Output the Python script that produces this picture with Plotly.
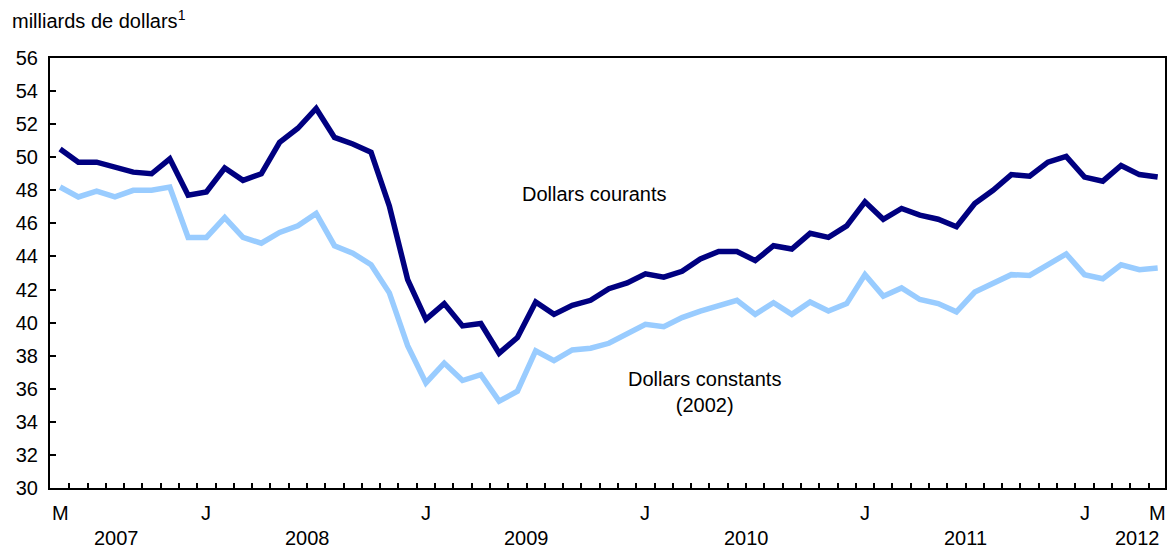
import plotly.graph_objects as go

# Monthly data, May 2007 to May 2012
months = [f"{y}-{m:02d}" for y in range(2007, 2013) for m in range(1, 13)]
months = months[months.index("2007-05"):months.index("2012-05") + 1]

courants = [
    50.5, 49.7, 49.7, 49.4, 49.1, 49.0, 49.9, 47.7, 47.9, 49.35,
    48.6, 49.0, 50.9, 51.75, 52.95, 51.2, 50.8, 50.3, 47.05, 42.6,
    40.2, 41.15, 39.8, 39.95, 38.15, 39.1, 41.25, 40.5, 41.05, 41.35,
    42.05, 42.4, 42.95, 42.75, 43.1, 43.85, 44.3, 44.3, 43.75, 44.65,
    44.45, 45.4, 45.15, 45.85, 47.3, 46.25, 46.9, 46.5, 46.25, 45.8,
    47.2, 48.0, 48.95, 48.85, 49.7, 50.05, 48.8, 48.55, 49.5, 48.95,
    48.8,
]
constants = [
    48.2, 47.6, 47.95, 47.6, 48.0, 48.0, 48.2, 45.15, 45.15, 46.35,
    45.15, 44.8, 45.45, 45.85, 46.6, 44.65, 44.2, 43.5, 41.8, 38.6,
    36.35, 37.55, 36.5, 36.85, 35.25, 35.85, 38.3, 37.7, 38.35, 38.45,
    38.75, 39.3, 39.9, 39.75, 40.3, 40.7, 41.05, 41.35, 40.5, 41.2,
    40.5, 41.25, 40.7, 41.15, 42.9, 41.6, 42.1, 41.4, 41.15, 40.65,
    41.85, 42.4, 42.9, 42.85, 43.5, 44.15, 42.9, 42.65, 43.5, 43.2,
    43.3,
]

month_labels = {"2007-05": "M", "2008-01": "J", "2009-01": "J", "2010-01": "J",
                "2011-01": "J", "2012-01": "J", "2012-05": "M"}
year_labels = ["2007", "2008", "2009", "2010", "2011", "2012"]
year_pos = [3.1, 13.5, 25.5, 37.5, 49.5, 58.9]

x = list(range(len(months)))
font = "Liberation Sans, Arial, sans-serif"
FS = 20
W, H = 1170, 552

fig = go.Figure()
fig.add_trace(go.Scatter(x=x, y=courants, mode="lines", name="Dollars courants",
                         line=dict(color="#000080", width=5.5), customdata=months,
                         hovertemplate="%{customdata}: %{y}<extra></extra>"))
fig.add_trace(go.Scatter(x=x, y=constants, mode="lines", name="Dollars constants (2002)",
                         line=dict(color="#99CCFF", width=5.5), customdata=months,
                         hovertemplate="%{customdata}: %{y}<extra></extra>"))

ann = []
for i, m in enumerate(months):
    if m in month_labels:
        ann.append(dict(x=i, y=-0.058, xref="x", yref="paper", text=month_labels[m],
                        showarrow=False, xanchor="center", yanchor="middle",
                        font=dict(size=FS, color="black", family=font)))
for yl, p in zip(year_labels, year_pos):
    ann.append(dict(x=p, y=-0.1163, xref="x", yref="paper", text=yl,
                    showarrow=False, xanchor="center", yanchor="middle",
                    font=dict(size=FS, color="black", family=font)))
ann.append(dict(x=29.2, y=47.8, xref="x", yref="y", text="Dollars courants",
                showarrow=False, font=dict(size=FS, color="black", family=font)))
ann.append(dict(x=35.2, y=35.8, xref="x", yref="y", text="Dollars constants<br>(2002)",
                showarrow=False, font=dict(size=FS, color="black", family=font)))

fig.update_layout(
    width=W, height=H,
    margin=dict(l=50, r=3, t=58, b=64),
    paper_bgcolor="white", plot_bgcolor="white",
    showlegend=False,
    font=dict(family=font, size=FS, color="black"),
    title=dict(text="milliards de dollars<sup>1</sup>", x=12 / W, xanchor="left",
               y=1 - 21 / H, yanchor="middle", xref="container", yref="container",
               font=dict(size=FS, color="black", family=font)),
    annotations=ann,
)
fig.update_xaxes(range=[-0.55, 60.4], tickvals=[i + 0.5 for i in range(60)],
                 showticklabels=False, ticks="inside", ticklen=5, tickwidth=2,
                 tickcolor="black", showline=True, linecolor="black", linewidth=2,
                 mirror=True, showgrid=False, zeroline=False)
fig.update_yaxes(range=[30, 56], tickvals=list(range(30, 57, 2)), ticks="inside",
                 ticklen=6, tickwidth=2, tickcolor="black", showline=True,
                 linecolor="black", linewidth=2, mirror=True, showgrid=False,
                 zeroline=False, ticklabelstandoff=6,
                 tickfont=dict(size=FS, color="black", family=font))

# remove the page's default body margin so the figure fills the 1170x552 window exactly
fig.write_html("out.html", config={"displayModeBar": False},
               post_script="document.body.style.margin='0';document.body.style.overflow='hidden';")
